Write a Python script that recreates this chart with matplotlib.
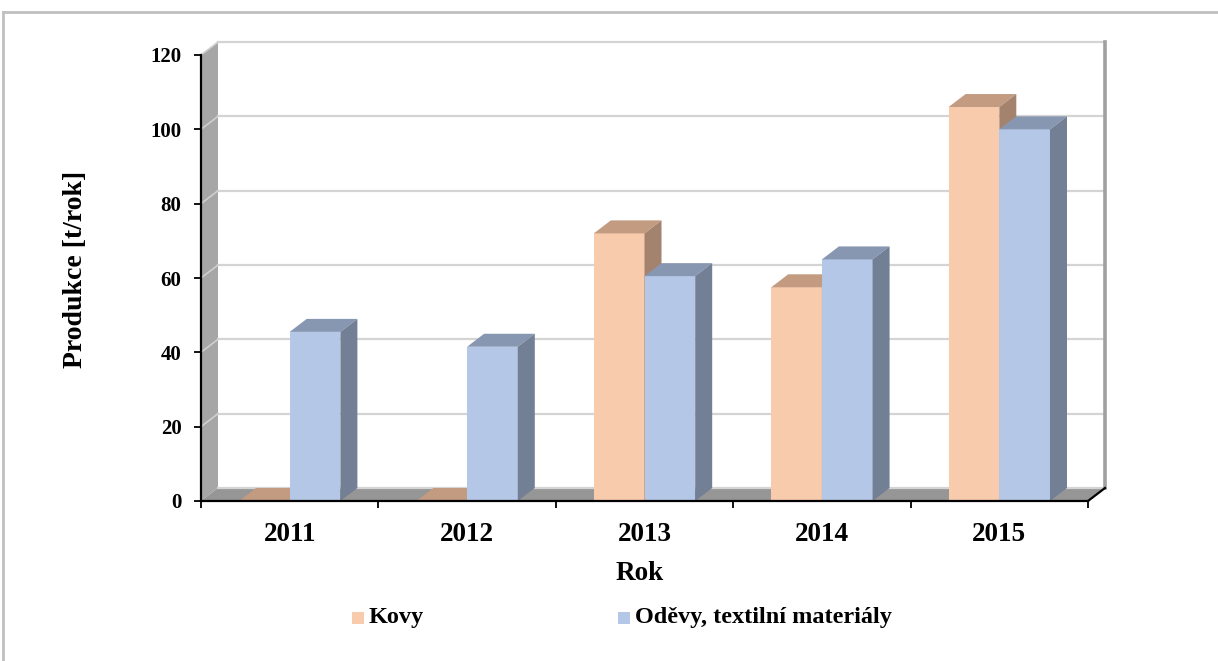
import numpy as np
import matplotlib
matplotlib.use("Agg")
import matplotlib.pyplot as plt
from matplotlib.patches import Polygon, Rectangle
from matplotlib.lines import Line2D

# ── data ──────────────────────────────────────────────────────────────────────
years = ["2011", "2012", "2013", "2014", "2015"]
series_names = ["Kovy", "Oděvy, textilní materiály"]
kovy = [0, 0, 72, 57.5, 106]
odevy = [45.5, 41.5, 60.5, 65, 100]
y_ticks = [0, 20, 40, 60, 80, 100, 120]

# ── style ─────────────────────────────────────────────────────────────────────
FRONT = ["#F8CBAD", "#B4C7E7"]
TOP = ["#C29B81", "#8897B1"]
SIDE = ["#A3836D", "#737F95"]
plt.rcParams["font.family"] = ["Liberation Serif", "DejaVu Serif"]
plt.rcParams["font.weight"] = "bold"

W, H = 1218, 661
fig = plt.figure(figsize=(W / 100, H / 100), dpi=100)
left, right, bottom, top = 201, 1088, 501, 55
ax = fig.add_axes([left / W, 1 - bottom / H, (right - left) / W, (bottom - top) / H])
n = len(years)
ymax = y_ticks[-1]
ax.set_xlim(0, n)
ax.set_ylim(0, ymax)

# depth offset in data units (17 px right, 13 px up)
dx = 17 / ((right - left) / n)
dy = 13 / ((bottom - top) / ymax)

# ── walls and floor ──────────────────────────────────────────────────────────
ax.add_patch(Polygon([(0, 0), (dx, dy), (dx, ymax + dy), (0, ymax)],
                     closed=True, fc="#A6A6A6", ec="none", clip_on=False, zorder=1))
ax.add_patch(Polygon([(0, 0), (n, 0), (n + dx, dy), (dx, dy)],
                     closed=True, fc="#969696", ec="none", clip_on=False, zorder=1))
for v in y_ticks:
    ax.add_line(Line2D([dx, n + dx], [v + dy, v + dy], color="#D4D4D4", lw=1.6,
                       clip_on=False, zorder=2))
    if v > 0:
        ax.add_line(Line2D([0, dx], [v, v + dy], color="#CFCFCF", lw=1.2,
                           clip_on=False, zorder=2))
ax.add_line(Line2D([n + dx, n + dx], [dy, ymax + dy], color="#A0A0A0", lw=2.6,
                   clip_on=False, zorder=2))
ax.add_line(Line2D([n, n + dx], [0, dy], color="black", lw=1.6, clip_on=False, zorder=6))

# ── bars ──────────────────────────────────────────────────────────────────────
bw = 1 / 3.5
gap = (1 - 2 * bw) / 2
for i in range(n):
    for s, vals in enumerate([kovy, odevy]):
        h = vals[i]
        x0 = i + gap + s * bw
        z = 3 + s
        ax.add_patch(Rectangle((x0, 0), bw, h, fc=FRONT[s], ec="none", zorder=z,
                               clip_on=False))
        ax.add_patch(Polygon([(x0, h), (x0 + bw, h), (x0 + bw + dx, h + dy), (x0 + dx, h + dy)],
                             closed=True, fc=TOP[s], ec="none", zorder=z, clip_on=False))
        ax.add_patch(Polygon([(x0 + bw, 0), (x0 + bw + dx, dy), (x0 + bw + dx, h + dy), (x0 + bw, h)],
                             closed=True, fc=SIDE[s], ec="none", zorder=z, clip_on=False))

# ── axes ──────────────────────────────────────────────────────────────────────
for sp in ["top", "right"]:
    ax.spines[sp].set_visible(False)
for sp in ["left", "bottom"]:
    ax.spines[sp].set_linewidth(1.6)
    ax.spines[sp].set_zorder(6)
ax.patch.set_alpha(0)
ax.set_yticks(y_ticks)
ax.set_yticklabels([str(v) for v in y_ticks], fontsize=15, fontweight="bold")
ax.tick_params(axis="y", direction="out", length=5, width=1.3, pad=9)
ax.set_xticks(np.arange(n + 1))
ax.set_xticklabels([])
ax.set_xticks(np.arange(n) + 0.5, minor=True)
ax.set_xticklabels(years, minor=True, fontsize=19.5, fontweight="bold")
ax.tick_params(axis="x", which="major", direction="out", length=5, width=1.3)
ax.tick_params(axis="x", which="minor", length=0, pad=15)

fig.text(640 / W, 1 - 573 / H, "Rok", fontsize=19.5, fontweight="bold",
         ha="center", va="center")
fig.text(75 / W, 1 - 269 / H, "Produkce [t/rok]", fontsize=20, fontweight="bold",
         ha="center", va="center", rotation=90)

# ── legend ────────────────────────────────────────────────────────────────────
leg_x = [352, 618]
for s, name in enumerate(series_names):
    fig.patches.append(Rectangle((leg_x[s] / W, 1 - 624 / H), 12 / W, 12 / H,
                                 transform=fig.transFigure, fc=FRONT[s], ec="none"))
    fig.text((leg_x[s] + 17) / W, 1 - 618 / H, name, fontsize=17.5, fontweight="bold",
             ha="left", va="center")

# outer border
fig.add_artist(Line2D([3 / W, 1], [1 - 12 / H, 1 - 12 / H], color="#C0C0C0", lw=2,
                      transform=fig.transFigure))
fig.add_artist(Line2D([3 / W, 3 / W], [0, 1 - 12 / H], color="#C0C0C0", lw=2,
                      transform=fig.transFigure))

fig.savefig("out.png", dpi=100)
